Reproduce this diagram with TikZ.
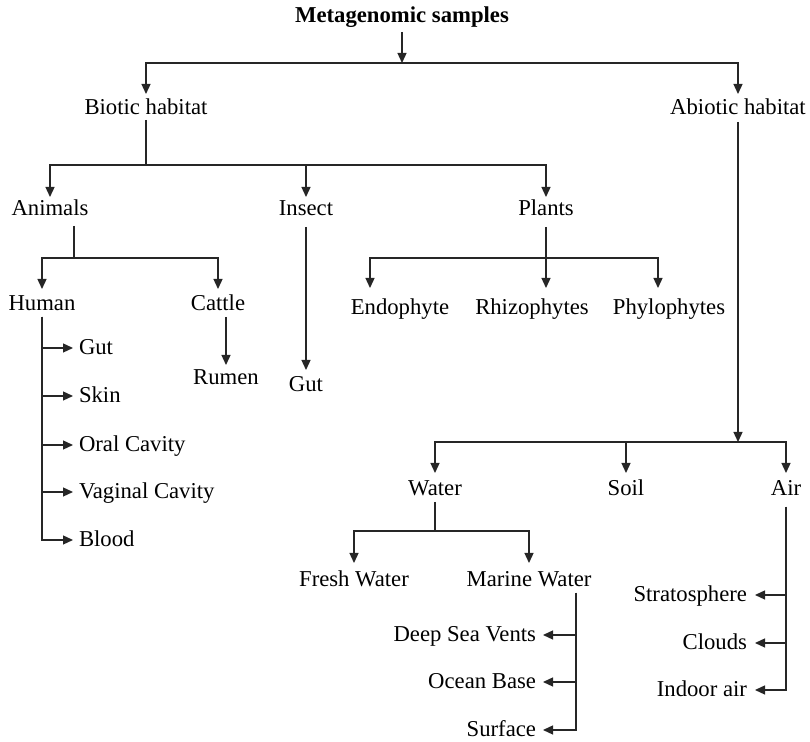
\documentclass[tikz,border=0pt]{standalone}
\usepackage{fontspec}
\setmainfont{Liberation Serif}
\usetikzlibrary{arrows.meta}

\begin{document}
\begin{tikzpicture}[x = 0.5pt, y = -0.5pt,
  lbl/.style = {inner sep = 0pt, outer sep = 0pt, anchor = base, text height = 7pt, text depth = 0pt,
    font = \fontsize{11.35pt}{13pt}\selectfont},
  link/.style = {line width = 0.65pt, color = black!85},
  arr/.style = {link, -{Triangle[length = 5pt, width = 4.5pt]}}]
\useasboundingbox (0, 0) rectangle (810, 742);

% labels
\node[lbl, font = \fontsize{11.35pt}{13pt}\selectfont\bfseries] (meta) at (402, 23) {Metagenomic samples};
\node[lbl] (bio) at (146, 115) {Biotic habitat};
\node[lbl] (abio) at (738, 115) {Abiotic habitat};
\node[lbl] (ani) at (50, 216) {Animals};
\node[lbl] (ins) at (306, 216) {Insect};
\node[lbl] (pla) at (546, 216) {Plants};
\node[lbl] (hum) at (42, 311) {Human};
\node[lbl] (cat) at (218, 311) {Cattle};
\node[lbl] (rum) at (226, 385) {Rumen};
\node[lbl] (igut) at (306, 392) {Gut};
\node[lbl] (endo) at (400, 315) {Endophyte};
\node[lbl] (rhiz) at (532, 315) {Rhizophytes};
\node[lbl] (phyl) at (669, 315) {Phylophytes};
\node[lbl, anchor = base west] (hgut) at (79, 355) {Gut};
\node[lbl, anchor = base west] (skin) at (79, 403) {Skin};
\node[lbl, anchor = base west] (oral) at (79, 452) {Oral Cavity};
\node[lbl, anchor = base west] (vag) at (79, 499) {Vaginal Cavity};
\node[lbl, anchor = base west] (blood) at (79, 547) {Blood};
\node[lbl] (wat) at (435, 496) {Water};
\node[lbl] (soil) at (626, 496) {Soil};
\node[lbl] (air) at (786, 496) {Air};
\node[lbl] (fresh) at (354, 587) {Fresh Water};
\node[lbl] (mar) at (529, 587) {Marine Water};
\node[lbl, anchor = base east] (deep) at (536, 642) {Deep Sea Vents};
\node[lbl, anchor = base east] (ocean) at (536, 689) {Ocean Base};
\node[lbl, anchor = base east] (surf) at (536, 737) {Surface};
\node[lbl, anchor = base east] (strat) at (747, 602) {Stratosphere};
\node[lbl, anchor = base east] (cloud) at (747, 650) {Clouds};
\node[lbl, anchor = base east] (indoor) at (747, 697) {Indoor air};

% junctions
\coordinate (j0) at (402, 63);
\coordinate (jb) at (146, 165);
\coordinate (ja) at (74, 258);
\coordinate (jp) at (546, 258);
\coordinate (jab) at (738, 442);
\coordinate (jw) at (435, 531);

% top level
\draw[arr, shorten <= 4.5pt] (meta) -- (j0);
\draw[arr, shorten >= 3.5pt] (j0) -| (bio);
\draw[arr, shorten >= 3.5pt] (j0) -| (abio);

% biotic
\draw[link, shorten <= 2.5pt] (bio) -- (jb);
\draw[arr, shorten >= 2.5pt] (jb) -| (ani);
\draw[arr, shorten >= 2.5pt] (jb) -| (ins);
\draw[arr, shorten >= 2.5pt] (jb) -| (pla);
\draw[link, shorten <= 5pt] (ani.south -| ja) -- (ja);
\draw[arr, shorten >= 4pt] (ja) -| (hum);
\draw[arr, shorten >= 4pt] (ja) -| (cat);
\draw[arr, shorten <= 3pt, shorten >= 3pt] (cat.south -| rum) -- (rum);
\foreach \part in {hgut, skin, oral, vag, blood}
  \draw[arr, shorten <= 3pt, shorten >= 3pt] (hum) |- (\part);
\draw[arr, shorten <= 5.5pt, shorten >= 4pt] (ins) -- (igut);
\draw[link, shorten <= 5.5pt] (pla) -- (jp);
\draw[arr, shorten >= 6.5pt] (jp) -| ([xshift = -15pt]endo.north);
\draw[arr, shorten >= 6.5pt] (jp) -| ([xshift = 7pt]rhiz.north);
\draw[arr, shorten >= 6.5pt] (jp) -| ([xshift = -5.5pt]phyl.north);

% abiotic
\draw[arr, shorten <= 3.5pt] (abio) -- (jab);
\draw[arr, shorten >= 4.5pt] (jab) -| (wat);
\draw[arr, shorten >= 4.5pt] (jab) -| (soil);
\draw[arr, shorten >= 4.5pt] (jab) -| (air);
\draw[link, shorten <= 3pt] (wat) -- (jw);
\draw[arr, shorten >= 5pt] (jw) -| (fresh);
\draw[arr, shorten >= 5pt] (jw) -| (mar);
\foreach \part in {deep, ocean, surf}
  \draw[arr, shorten <= 3pt, shorten >= 3.5pt] ([xshift = 23.5pt]mar.south) |- (\part);
\foreach \part in {strat, cloud, indoor}
  \draw[arr, shorten <= 5.5pt, shorten >= 4pt] (air) |- (\part);
\end{tikzpicture}
\end{document}
